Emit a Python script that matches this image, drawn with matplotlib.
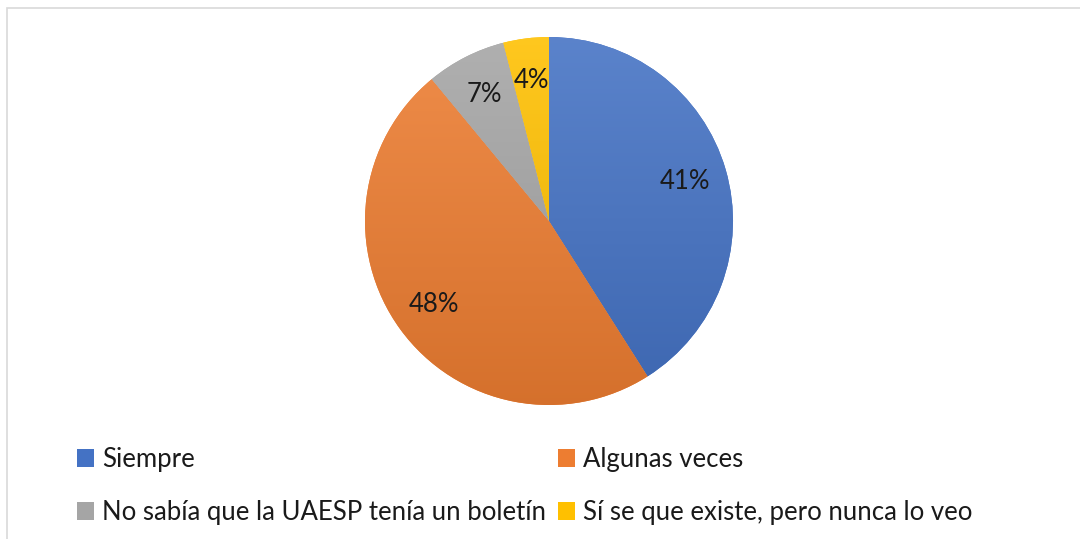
import numpy as np
import matplotlib
matplotlib.use('Agg')
import matplotlib.pyplot as plt
from matplotlib.patches import Rectangle, Patch
from matplotlib.colors import to_rgb

plt.rcParams['font.family'] = ['Lato', 'DejaVu Sans']

# Datos del gráfico
categorias = ['Siempre', 'Algunas veces',
              'No sabía que la UAESP tenía un boletín',
              'Sí se que existe, pero nunca lo veo']
valores = [41, 48, 7, 4]
colores = ['#4472C4', '#ED7D31', '#A5A5A5', '#FFC000']

W, H = 1080, 539
fig = plt.figure(figsize=(W / 100, H / 100), dpi=100)

# marco del gráfico
fig.patches.append(Rectangle((7 / W, -0.05), 1.1, 1 - 8 / H + 0.05,
                             transform=fig.transFigure, fill=False,
                             edgecolor='#D9D9D9', linewidth=1.2))

cx, cy, r = 549, 221, 184
ax = fig.add_axes([(cx - r) / W, (H - cy - r) / H, 2 * r / W, 2 * r / H])

wedges, _, autotexts = ax.pie(valores, colors=colores, startangle=90,
                              counterclock=False, radius=1,
                              autopct='%1.0f%%', pctdistance=0.77,
                              wedgeprops=dict(linewidth=0),
                              textprops=dict(fontsize=18.5, color='#1a1a1a'))


def degradado(color):
    # Estilo Excel: más claro arriba, más oscuro abajo
    c = np.array(to_rgb(color))
    t = np.linspace(0, 1, 256)[:, None]
    claro = c + (1 - c) * 0.12
    oscuro = c * 0.9
    g = claro * (1 - t) + oscuro * t
    return g[:, None, :].repeat(2, axis=1)


for w, col in zip(wedges, colores):
    im = ax.imshow(degradado(col), extent=[-1, 1, -1, 1], aspect='auto',
                   origin='upper', zorder=w.get_zorder() + 0.1)
    im.set_clip_path(w)
for t in autotexts:
    t.set_zorder(5)

ax.set_xlim(-1, 1)
ax.set_ylim(-1, 1)
ax.axis('off')

orden = [0, 2, 1, 3]
handles = [Patch(facecolor=colores[i], edgecolor='none') for i in orden]
labels = [categorias[i] for i in orden]
fig.legend(handles, labels, ncol=2, loc='upper left',
           bbox_to_anchor=(77 / W, 1 - 447 / H), frameon=False,
           borderpad=0, borderaxespad=0,
           fontsize=18.5, handlelength=0.66, handleheight=0.66,
           handletextpad=0.31, columnspacing=0.47, labelspacing=1.09,
           labelcolor='#1a1a1a')

fig.savefig('out.png', dpi=100)
